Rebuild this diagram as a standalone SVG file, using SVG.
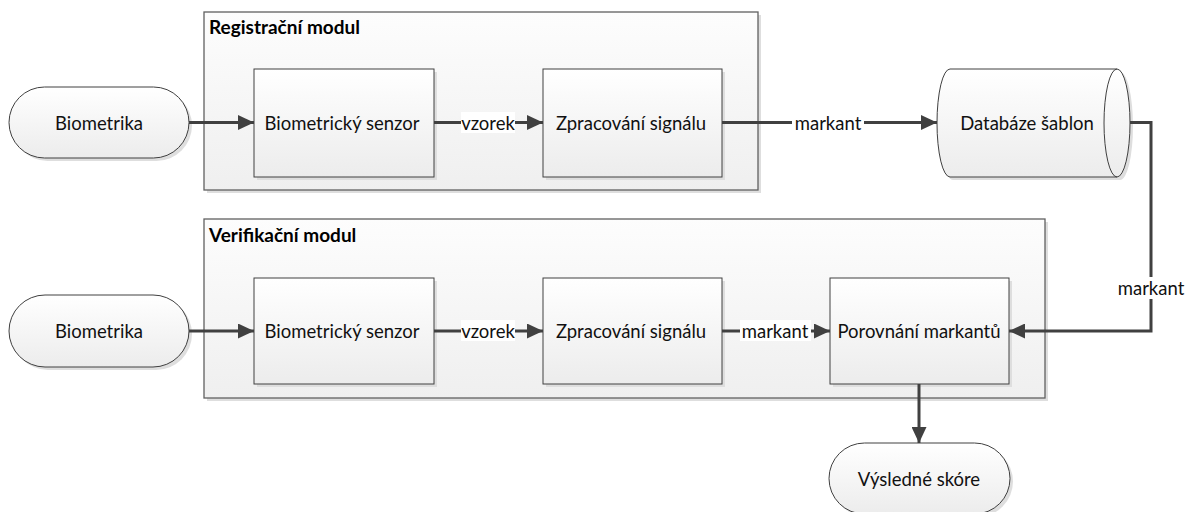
<svg xmlns="http://www.w3.org/2000/svg" width="1192" height="512" viewBox="0 0 1192 512">
  <defs>
    <linearGradient id="gShape" x1="0" y1="0" x2="0" y2="1">
      <stop offset="0" stop-color="#ffffff"/>
      <stop offset="1" stop-color="#ececec"/>
    </linearGradient>
    <linearGradient id="gModule" x1="0" y1="0" x2="0" y2="1">
      <stop offset="0" stop-color="#fdfdfd"/>
      <stop offset="1" stop-color="#efefef"/>
    </linearGradient>
    <marker id="arrow" viewBox="0 0 16 15" refX="16" refY="7.5" markerWidth="16" markerHeight="15" markerUnits="userSpaceOnUse" orient="auto">
      <path d="M0,0 L16,7.5 L0,15 Z" fill="#404040"/>
    </marker>
  </defs>
  <style>
    .module { fill: url(#gModule); stroke: #606060; stroke-width: 1.3; }
    .box { fill: url(#gShape); stroke: #404040; stroke-width: 1; }
    .shadow { fill: #dedede; stroke: none; }
    .label { font-family: Lato, "Liberation Sans", sans-serif; font-size: 18.5px; fill: #111; text-anchor: middle; dominant-baseline: central; }
    .title { font-family: Lato, "Liberation Sans", sans-serif; font-size: 19px; font-weight: bold; fill: #000; }
    .conn { fill: none; stroke: #404040; stroke-width: 3; }
    .tagbg { fill: #ffffff; }
  </style>

  <!-- Enrollment module frame -->
  <g id="registracni-modul">
    <rect class="shadow" x="207" y="15" width="554" height="178"/>
    <rect class="module" x="204" y="12" width="554" height="178"/>
    <text class="title" x="209" y="34">Registrační modul</text>
  </g>

  <!-- Verification module frame -->
  <g id="verifikacni-modul">
    <rect class="shadow" x="207" y="222" width="841" height="179"/>
    <rect class="module" x="204" y="219" width="841" height="179"/>
    <text class="title" x="209" y="242">Verifikační modul</text>
  </g>

  <!-- Top row -->
  <g id="biometrika-1">
    <rect class="shadow" x="12" y="90" width="180" height="71" rx="35.5"/>
    <rect class="box" x="9" y="87" width="180" height="71" rx="35.5"/>
    <text class="label" x="99" y="123">Biometrika</text>
  </g>
  <g id="senzor-1">
    <rect class="shadow" x="257" y="72" width="180" height="108"/>
    <rect class="box" x="254" y="69" width="180" height="108"/>
    <text class="label" x="342" y="123">Biometrický senzor</text>
  </g>
  <g id="zpracovani-1">
    <rect class="shadow" x="546" y="72" width="179" height="108"/>
    <rect class="box" x="543" y="69" width="179" height="108"/>
    <text class="label" x="631" y="123">Zpracování signálu</text>
  </g>
  <g id="databaze">
    <path class="shadow" d="M953,72 L1120,72 A13,54 0 0 1 1120,180 L953,180 A13,54 0 0 1 953,72 Z"/>
    <path class="box" d="M950,69 L1117,69 A13,54 0 0 1 1117,177 L950,177 A13,54 0 0 1 950,69 Z"/>
    <path class="box" d="M1117,177 A13,54 0 0 1 1117,69" style="fill:none"/>
    <text class="label" x="1027" y="123">Databáze šablon</text>
  </g>

  <!-- Bottom row -->
  <g id="biometrika-2">
    <rect class="shadow" x="12" y="298" width="180" height="72" rx="36"/>
    <rect class="box" x="9" y="295" width="180" height="72" rx="36"/>
    <text class="label" x="99" y="331">Biometrika</text>
  </g>
  <g id="senzor-2">
    <rect class="shadow" x="257" y="281" width="180" height="106"/>
    <rect class="box" x="254" y="278" width="180" height="106"/>
    <text class="label" x="342" y="331">Biometrický senzor</text>
  </g>
  <g id="zpracovani-2">
    <rect class="shadow" x="546" y="281" width="179" height="106"/>
    <rect class="box" x="543" y="278" width="179" height="106"/>
    <text class="label" x="631" y="331">Zpracování signálu</text>
  </g>
  <g id="porovnani">
    <rect class="shadow" x="833" y="281" width="179" height="106"/>
    <rect class="box" x="830" y="278" width="179" height="106"/>
    <text class="label" x="919" y="331">Porovnání markantů</text>
  </g>
  <g id="skore">
    <rect class="shadow" x="832" y="446" width="181" height="71" rx="35.5"/>
    <rect class="box" x="829" y="443" width="181" height="71" rx="35.5"/>
    <text class="label" x="919" y="479">Výsledné skóre</text>
  </g>

  <!-- Connectors -->
  <g id="connectors">
    <path class="conn" d="M189,122.5 H254" marker-end="url(#arrow)"/>
    <path class="conn" d="M434,122.5 H543" marker-end="url(#arrow)"/>
    <rect class="tagbg" x="461" y="112" width="54" height="21"/>
    <text class="label" x="488" y="123">vzorek</text>
    <path class="conn" d="M722,122.5 H937" marker-end="url(#arrow)"/>
    <rect class="tagbg" x="792" y="112" width="72" height="21"/>
    <text class="label" x="828" y="123">markant</text>
    <path class="conn" d="M1130,122.5 H1151 V331 H1009" marker-end="url(#arrow)"/>
    <rect class="tagbg" x="1115" y="277" width="72" height="22"/>
    <text class="label" x="1151" y="288">markant</text>

    <path class="conn" d="M189,331 H254" marker-end="url(#arrow)"/>
    <path class="conn" d="M434,331 H543" marker-end="url(#arrow)"/>
    <rect class="tagbg" x="461" y="320" width="54" height="21"/>
    <text class="label" x="488" y="331">vzorek</text>
    <path class="conn" d="M722,331 H830" marker-end="url(#arrow)"/>
    <rect class="tagbg" x="740" y="320" width="71" height="21"/>
    <text class="label" x="775" y="331">markant</text>
    <path class="conn" d="M919,384 V443" marker-end="url(#arrow)"/>
  </g>
</svg>
